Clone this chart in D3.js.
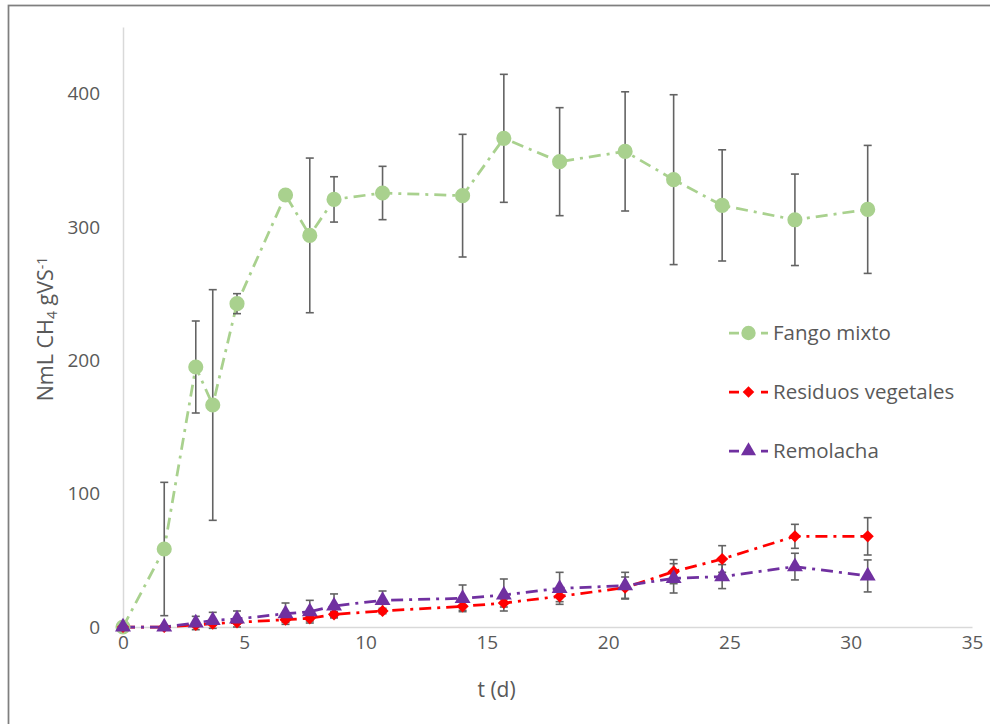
<!DOCTYPE html>
<html>
<head>
<meta charset="utf-8">
<script src="https://cdn.jsdelivr.net/npm/d3@7"></script>
<style>
  body { margin: 0; background: #fff; }
  text { font-family: "Open Sans", sans-serif; fill: #595959; }
</style>
</head>
<body>
<div id="container"></div>
<script>
let w = 990;
let h = 724;

// DATA
let days = [0, 1.7, 3, 3.7, 4.7, 6.7, 7.7, 8.7, 10.7, 14, 15.7, 18, 20.7, 22.7, 24.7, 27.7, 30.7];
let fango = [0, 58.5, 195, 166.5, 242.5, 324, 293.7, 320.7, 325.5, 323.5, 366.5, 349, 356.7, 335.5, 316.2, 305.4, 313.2];
let fangoErr = [0, 50, 34.5, 86.5, 7.5, 0, 58, 17, 20, 46, 48, 40.5, 44.7, 63.7, 41.7, 34.3, 48];
let residuos = [0, 0, 1.5, 2.5, 3.5, 5.5, 6.5, 9.5, 12, 15.5, 18, 23, 29.5, 41.5, 51, 68, 68];
let residuosErr = [0, 0, 1, 1, 1, 2, 2, 2, 2, 3, 3, 4, 8, 9, 10, 9, 14];
let remolacha = [0, 0, 3, 5, 6, 10, 11.5, 15.8, 20, 21.5, 24, 29, 31, 36.5, 37.8, 45.3, 38.3];
let remolachaErr = [0, 0, 5, 6, 6, 8, 8.5, 9, 7, 10, 12, 12, 10, 11, 9, 10, 12];
let yTicks = [0, 100, 200, 300, 400];
let xTicks = [0, 5, 10, 15, 20, 25, 30, 35];

let series = [
  {name: "Fango mixto", values: fango, err: fangoErr, color: "#a9d18e", shape: d3.symbolCircle, size: 180},
  {name: "Residuos vegetales", values: residuos, err: residuosErr, color: "#ff0000", shape: d3.symbolDiamond2, size: 95},
  {name: "Remolacha", values: remolacha, err: remolachaErr, color: "#7030a0", shape: d3.symbolTriangle, size: 110}
];

let viz = d3.select("#container").append("svg")
    .attr("width", w)
    .attr("height", h);

// frame
viz.append("rect")
    .attr("x", 8.5).attr("y", 5.5)
    .attr("width", w).attr("height", h)
    .attr("fill", "none")
    .attr("stroke", "#7f7f7f")
    .attr("stroke-width", 1.75);

let x = d3.scaleLinear().domain([0, 35]).range([123, 972]);
let y = d3.scaleLinear().domain([0, 450]).range([627, 27]);

// axes
let yAxis = viz.append("g")
    .attr("transform", "translate(123,0)")
    .call(d3.axisLeft(y).tickValues(yTicks).tickSize(0).tickPadding(23));
let xAxis = viz.append("g")
    .attr("transform", "translate(0,627)")
    .call(d3.axisBottom(x).tickValues(xTicks).tickSize(0).tickPadding(9));
[xAxis, yAxis].forEach(a => {
  a.select(".domain").attr("stroke", "#d9d9d9").attr("stroke-width", 1.5);
  a.selectAll("text").style("font-size", "19px").attr("fill", "#595959")
    .style("font-family", "'Open Sans', sans-serif");
});

// axis titles
viz.append("text")
    .attr("x", x(15.4)).attr("y", 697)
    .attr("text-anchor", "middle")
    .style("font-size", "21px")
    .text("t (d)");

let yt = viz.append("text")
    .attr("transform", "translate(53,329) rotate(-90)")
    .attr("text-anchor", "middle")
    .style("font-size", "21.5px");
yt.append("tspan").text("NmL CH");
yt.append("tspan").attr("baseline-shift", "-25%").style("font-size", "14px").text("4");
yt.append("tspan").text(" gVS");
yt.append("tspan").attr("baseline-shift", "45%").style("font-size", "14px").text("-1");

let line = d3.line().x((d, i) => x(days[i])).y(d => y(d));

// lines
series.forEach(s => {
  viz.append("path")
      .datum(s.values)
      .attr("d", line)
      .attr("fill", "none")
      .attr("stroke", s.color)
      .attr("stroke-width", 2.75)
      .attr("stroke-dasharray", "12,6,3,6");
});

// error bars
series.forEach(s => {
  let g = viz.append("g");
  s.values.forEach((v, i) => {
    let e = s.err[i];
    if (e <= 0) return;
    let cx = x(days[i]);
    g.append("line")
        .attr("x1", cx).attr("x2", cx)
        .attr("y1", y(v - e)).attr("y2", y(v + e))
        .attr("stroke", "#636363").attr("stroke-width", 1.6);
    [v - e, v + e].forEach(c => {
      g.append("line")
          .attr("x1", cx - 4).attr("x2", cx + 4)
          .attr("y1", y(c)).attr("y2", y(c))
          .attr("stroke", "#636363").attr("stroke-width", 1.6);
    });
  });
});

// markers
series.forEach(s => {
  viz.append("g").selectAll("path")
      .data(s.values)
      .enter()
      .append("path")
      .attr("d", d3.symbol().type(s.shape).size(s.size))
      .attr("transform", (d, i) => "translate(" + x(days[i]) + "," + y(d) + ")")
      .attr("fill", s.color);
});

// legend
let legend = viz.append("g");
series.forEach((s, i) => {
  let ly = 333 + i * 59;
  legend.append("line")
      .attr("x1", 729).attr("x2", 768)
      .attr("y1", ly).attr("y2", ly)
      .attr("stroke", s.color)
      .attr("stroke-width", 2.75)
      .attr("stroke-dasharray", "10,22,7");
  legend.append("path")
      .attr("d", d3.symbol().type(s.shape).size(s.size * 0.9))
      .attr("transform", "translate(748.5," + ly + ")")
      .attr("fill", s.color);
  legend.append("text")
      .attr("x", 773).attr("y", ly)
      .attr("dy", "0.35em")
      .style("font-size", "20.5px")
      .text(s.name);
});
</script>
</body>
</html>
